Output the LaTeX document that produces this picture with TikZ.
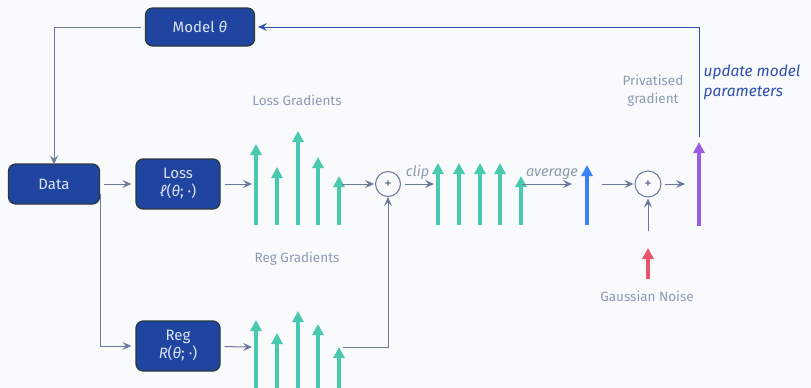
\documentclass[tikz,border=0pt]{standalone}
\usepackage{fontspec}
\setmainfont{Fira Sans}
\usetikzlibrary{arrows,arrows.meta}
\definecolor{paper}{HTML}{F9FAFB}
\definecolor{boxfill}{HTML}{1F45A0}
\definecolor{boxedge}{HTML}{2B3A3F}
\definecolor{boxtext}{HTML}{DCE3F5}
\definecolor{wire}{HTML}{6B7A99}
\definecolor{note}{HTML}{8C9BB5}
\definecolor{teal}{HTML}{48C9B0}
\definecolor{avgblue}{HTML}{3B82F6}
\definecolor{privpurple}{HTML}{9B5DE5}
\definecolor{noisered}{HTML}{E8546B}
\definecolor{update}{HTML}{2F4FB0}
\tikzset{
    %Define standard arrow tip
    >={Stealth[length=9pt,width=8pt,inset=3.5pt]},
    %Define style for boxes
    block/.style={
           rectangle,
           rounded corners=7pt,
           draw=boxedge, line width=1.2pt,
           fill=boxfill,
           text=boxtext,
           font=\fontsize{15}{18}\selectfont,
           align=center,
           inner sep=2pt},
    sum/.style={
           circle,
           draw=wire, line width=1pt,
           minimum size=25pt,
           inner sep=0pt,
           font=\fontsize{12}{12}\selectfont\bfseries,
           text=wire},
    % Define arrow styles
    conn/.style={
           ->,
           draw=wire,
           line width=1pt},
    grad/.style={
           line width=4.5pt,
           -{Triangle[width=11pt,length=11pt]}},
    caption/.style={
           text=note,
           font=\fontsize{13.5}{18}\selectfont,
           align=center},
    italiclabel/.style={
           text=note,
           font=\fontsize{14.5}{16}\selectfont\itshape}
}

\begin{document}
\begin{tikzpicture}[x=1pt,y=-1pt]
\clip (0,0) rectangle (811,388);
\fill[paper] (0,0) rectangle (811,388);
 %nodes
\node[block, minimum width=109pt, minimum height=38pt](model) at (200,27){Model \textit{θ}};
\node[block, minimum width=91pt, minimum height=40pt](data) at (54,184){Data};
\node[block, minimum width=84pt, minimum height=50pt](loss) at (178,184){Loss\\\textit{ℓ}(\textit{θ}; ·)};
\node[block, minimum width=84pt, minimum height=50pt](reg) at (178,346){Reg\\\textit{R}(\textit{θ}; ·)};
\node[sum](sum1) at (388,184){+};
\node[sum, minimum size=26pt](sum2) at (648,184){+};
 %captions
\node[caption](losscap) at (297,100){Loss Gradients};
\node[caption](regcap) at (297,259){Reg Gradients};
\node[caption](privcap) at (653,91){Privatised\\gradient};
\node[caption](noisecap) at (647,296){Gaussian Noise};
\node[text=update, font=\fontsize{15.5}{20}\selectfont\itshape, align=left](upd) at (752,82){update model\\parameters};
 %gradient arrows
\foreach \x/\t in {256/144, 277/167, 298/131, 318/157, 339/176}
    \draw[grad, teal] (\x,225) -- (\x,\t);
\foreach \x/\t in {256/320, 277/333, 298/311, 318/324, 339/347}
    \draw[grad, teal] (\x,392) -- (\x,\t);
\foreach \x/\t in {438/163, 459/163, 480/163, 500/163, 521/176}
    \draw[grad, teal] (\x,225) -- (\x,\t);
\draw[grad, avgblue] (587,225) -- (587,165);
\draw[grad, privpurple] (699,226) -- (699,142);
\draw[grad, noisered] (648,279) -- (648,248);
 %connector ends
\coordinate (dsplit) at (100,190);
\coordinate (lgin) at (252,184);
\coordinate (lgout) at (342,184);
\coordinate (rgin) at (252,347);
\coordinate (rgout) at (343,347);
\coordinate (cgin) at (434,184);
\coordinate (cgout) at (522,184);
\coordinate (avgin) at (572,184);
\coordinate (avgout) at (602,184);
\coordinate (pgin) at (685,184);
\coordinate (pgtop) at (699,137);
\coordinate (noisetop) at (648,231);
\coordinate (loop) at (54,27);
 %connectors
\draw[conn, shorten <=4pt] (model.west) -- (loop) -- ([yshift=-1pt]data.north);
\draw[conn, shorten <=4pt, shorten >=4pt] (data) -- (loss);
\draw[conn, shorten <=4pt] (loss) -- (lgin);
\draw[conn, shorten >=1pt] (lgout) -- (sum1);
\draw[conn, shorten <=4pt] (dsplit) |- ([xshift=-4pt]reg.west);
\draw[conn, shorten <=4pt] (reg) -- (rgin);
\draw[conn] (rgout) -| (sum1);
\draw[conn, shorten <=4pt] (sum1) -- node[italiclabel, above=1pt]{clip} (cgin);
\draw[conn] (cgout) -- node[italiclabel, above=1pt, xshift=5pt]{average} (avgin);
\draw[conn, shorten >=1pt] (avgout) -- (sum2);
\draw[conn, shorten <=3pt] (sum2) -- (pgin);
\draw[conn, shorten >=1pt] (noisetop) -- (sum2);
\draw[->, draw=update, line width=1pt, shorten >=3pt] (pgtop) |- (model);
\end{tikzpicture}
\end{document}
